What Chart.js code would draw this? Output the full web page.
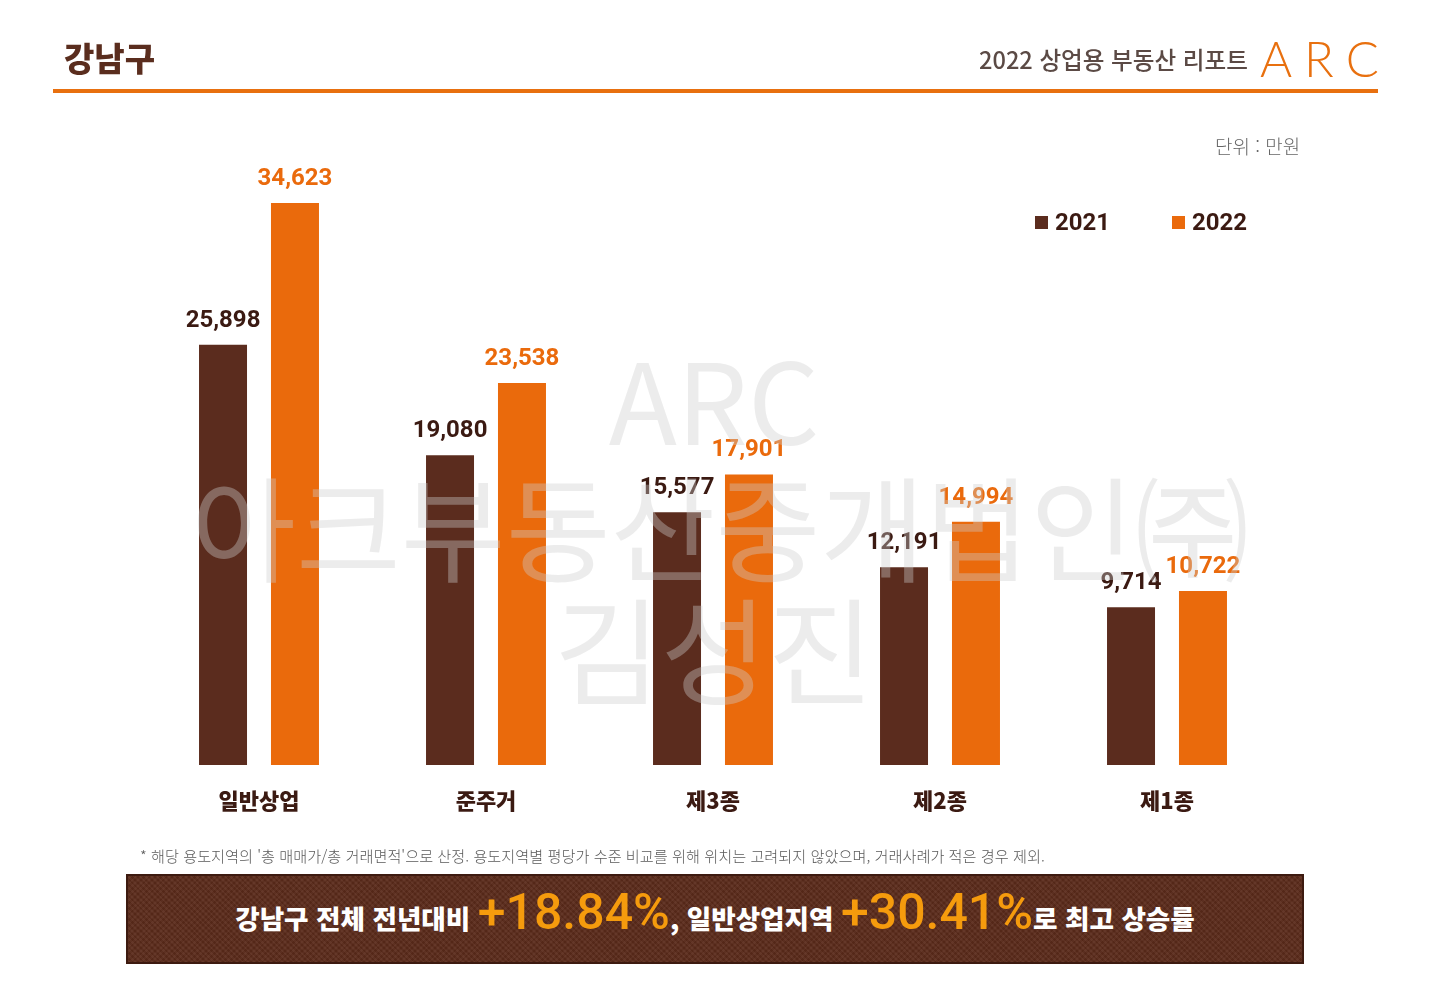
<!DOCTYPE html>
<html lang="ko">
<head>
<meta charset="utf-8">
<script src="https://cdn.jsdelivr.net/npm/chart.js@4.4.1/dist/chart.umd.min.js"></script>
<style>
  html, body { margin:0; padding:0; background:#fff; }
  body { width:1430px; height:990px; position:relative; overflow:hidden; font-family:'Noto Sans CJK KR','Noto Sans',sans-serif; }
  #chart { position:absolute; left:0; top:0; }
  .abs { position:absolute; white-space:nowrap; }
  #title { left:64px; top:33px; font-size:33px; font-weight:900; color:#5a2d1e; line-height:48px; }
  #hline { left:53px; top:89px; width:1325px; height:4px; background:#e8700f; }
  #report { left:979px; top:42px; font-size:23.6px; font-weight:500; color:#5b4a45; line-height:34px; }
  #arc { left:1260px; top:30px; font-family:'Lato',sans-serif; font-weight:300; font-size:49px; color:#e8700f; letter-spacing:12px; line-height:56px; }
  #unit { left:1215px; top:132px; font-size:19px; font-weight:300; color:#666; line-height:28px; }
  #legend { left:1035px; top:206px; font-family:'Roboto',sans-serif; font-weight:700; font-size:24px; color:#3b1a12; line-height:32px; }
  .lg { position:absolute; top:0; white-space:nowrap; }
  .sw { display:inline-block; width:13px; height:13px; margin-right:7px; vertical-align:1px; }
  #note { left:140px; top:844px; font-size:15.2px; font-weight:300; color:#5a5a5a; line-height:22px; }
  #banner { left:126px; top:874px; width:1174px; height:86px; border:2px solid #3d1a10;
    background-color:#5a2a1a;
    background-image: repeating-linear-gradient(45deg, rgba(255,255,255,0.035) 0 2px, rgba(0,0,0,0.04) 2px 4px),
                      repeating-linear-gradient(-45deg, rgba(255,255,255,0.03) 0 2px, rgba(0,0,0,0.03) 2px 4px);
    display:flex; align-items:center; justify-content:center; }
  #banner .w { color:#fff; font-weight:900; font-size:26.6px; }
  #banner .o { color:#f59b0d; font-family:'Roboto',sans-serif; font-weight:500; font-size:50px; }
  #banner .t { margin-bottom:14px; white-space:nowrap; }
</style>
</head>
<body>
<canvas id="chart" width="1430" height="990"></canvas>
<div class="abs" id="title">강남구</div>
<div class="abs" id="hline"></div>
<div class="abs" id="report">2022 상업용 부동산 리포트</div>
<div class="abs" id="arc">ARC</div>
<div class="abs" id="unit">단위 : 만원</div>
<div class="abs" id="legend"></div>
<div class="abs" id="note">* 해당 용도지역의 '총 매매가/총 거래면적'으로 산정. 용도지역별 평당가 수준 비교를 위해 위치는 고려되지 않았으며, 거래사례가 적은 경우 제외.</div>
<div class="abs" id="banner"><div class="t"><span class="w">강남구 전체 전년대비 </span><span class="o">+18.84%</span><span class="w">, 일반상업지역 </span><span class="o">+30.41%</span><span class="w">로 최고 상승률</span></div></div>
<script>
const categories = ['일반상업', '준주거', '제3종', '제2종', '제1종'];
const seriesNames = ['2021', '2022'];
const values2021 = [25898, 19080, 15577, 12191, 9714];
const values2022 = [34623, 23538, 17901, 14994, 10722];
const seriesColors = ['#5b2c1e', '#ea6a0c'];
const labelColors = ['#3b1a12', '#ea6a0c'];
const watermarkLines = ['ARC', '아크부동산중개법인㈜', '김성진'];

// legend
const legendEl = document.getElementById('legend');
const legendX = [0, 137];
seriesNames.forEach((n, i) => {
  const d = document.createElement('div');
  d.className = 'lg';
  d.style.left = legendX[i] + 'px';
  d.innerHTML = '<span class="sw" style="background:' + seriesColors[i] + '"></span>' + n;
  legendEl.appendChild(d);
});

const valueLabels = {
  id: 'valueLabels',
  afterDatasetsDraw(chart) {
    const ctx = chart.ctx;
    ctx.save();
    ctx.font = '700 24px Roboto, sans-serif';
    ctx.textAlign = 'center';
    ctx.textBaseline = 'alphabetic';
    chart.data.datasets.forEach((ds, di) => {
      const meta = chart.getDatasetMeta(di);
      ctx.fillStyle = labelColors[di];
      meta.data.forEach((bar, i) => {
        ctx.fillText(ds.data[i].toLocaleString('en-US'), bar.x, bar.y - 18);
      });
    });
    ctx.restore();
  }
};

const watermark = {
  id: 'watermark',
  afterDraw(chart) {
    const ctx = chart.ctx;
    ctx.save();
    ctx.fillStyle = 'rgba(205,205,205,0.38)';
    ctx.textAlign = 'center';
    ctx.textBaseline = 'middle';
    ctx.font = '400 112px "Noto Sans CJK KR", sans-serif';
    ctx.fillText(watermarkLines[0], 714, 402);
    ctx.font = '400 114px "Noto Sans CJK KR", sans-serif';
    ctx.fillText(watermarkLines[1], 720, 530);
    ctx.font = '400 116px "Noto Sans CJK KR", sans-serif';
    ctx.fillText(watermarkLines[2], 714, 652);
    ctx.restore();
  }
};

new Chart(document.getElementById('chart'), {
  type: 'bar',
  data: {
    labels: categories,
    datasets: [
      { label: seriesNames[0], data: values2021, backgroundColor: seriesColors[0] },
      { label: seriesNames[1], data: values2022, backgroundColor: seriesColors[1] }
    ]
  },
  options: {
    responsive: false,
    animation: false,
    events: [],
    datasets: { bar: { categoryPercentage: 0.634, barPercentage: 0.667 } },
    layout: { padding: { left: 145.5, right: 149.5, top: 180.7, bottom: 154.6 } },
    plugins: { legend: { display: false }, tooltip: { enabled: false } },
    scales: {
      x: {
        grid: { display: false, drawTicks: false },
        border: { display: false },
        ticks: { color: '#3b1a12', font: { family: '"Noto Sans CJK KR", sans-serif', size: 22, weight: '900' }, padding: 22 }
      },
      y: { display: false, min: 0, max: 36000 }
    }
  },
  plugins: [valueLabels, watermark]
});
</script>
</body>
</html>
